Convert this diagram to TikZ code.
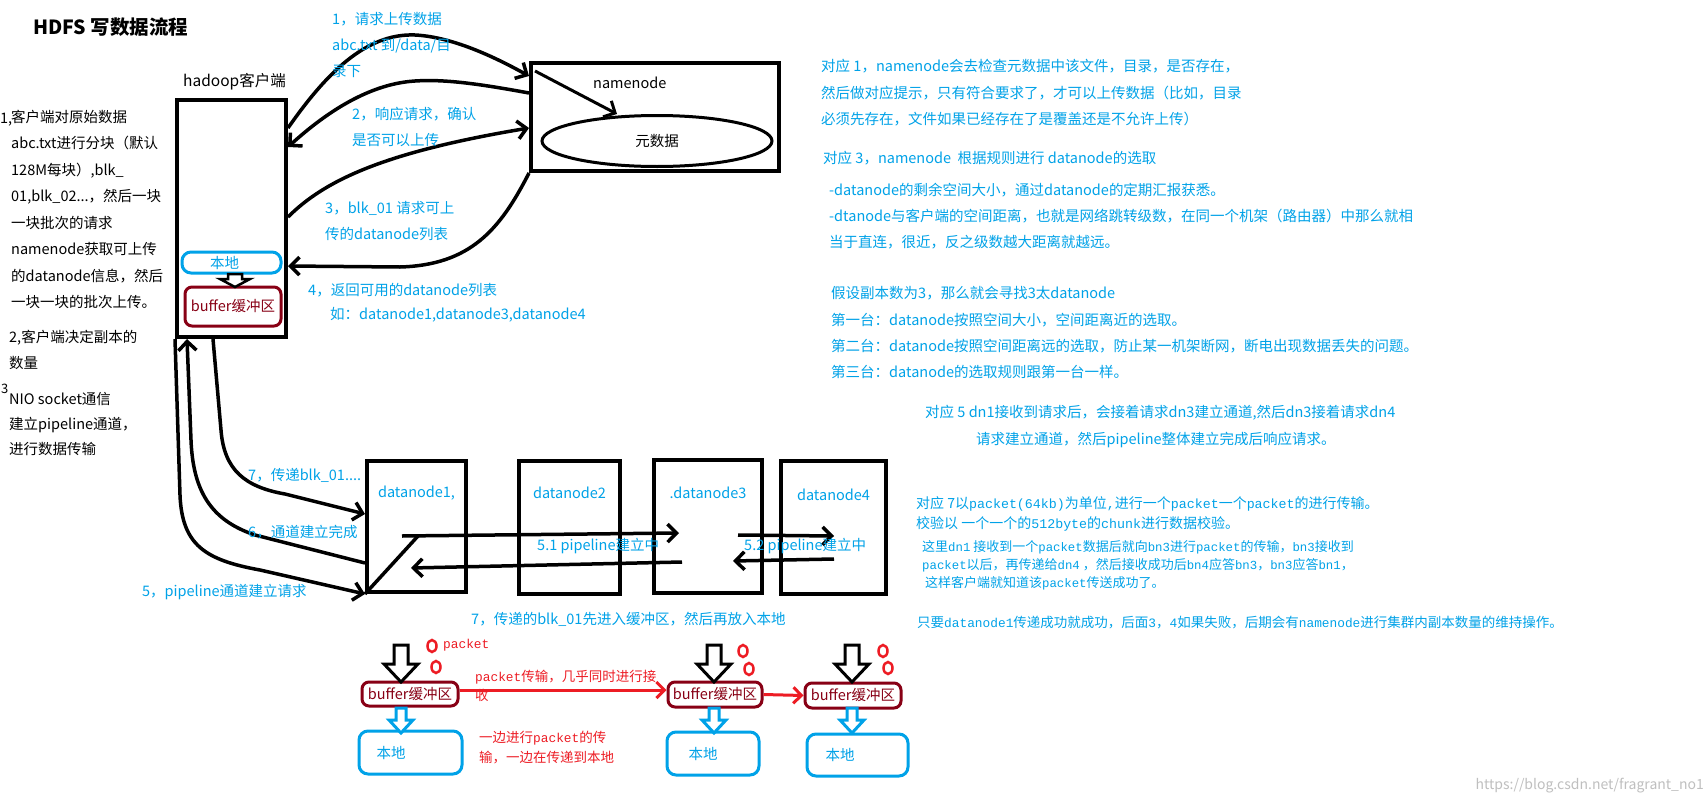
\documentclass[tikz,border=0pt]{standalone}
\usepackage{fontspec}
\setmainfont{Noto Sans CJK SC}
\newfontfamily\mono{Liberation Mono}[Scale=0.95]
\usetikzlibrary{arrows.meta,positioning,calc,shapes.geometric}

\definecolor{paintblue}{RGB}{0,162,232}
\definecolor{paintred}{RGB}{237,28,36}
\definecolor{darkred}{RGB}{136,0,21}

\begin{document}
\begin{tikzpicture}[x=1pt, y=-1pt,
  font=\fontsize{14.5}{26.5}\selectfont,
  txt/.style={anchor=west, inner sep=0pt},
  para/.style={anchor=north west, align=left, inner sep=0pt},
  note/.style={txt, text=paintblue},
  notes/.style={para, text=paintblue},
  box/.style={draw, line width=4pt, inner sep=0pt},
  localbox/.style={draw=paintblue, line width=3pt, rounded corners=9pt, inner sep=0pt, text=paintblue},
  bufbox/.style={draw=darkred, line width=3pt, rounded corners=7pt, inner sep=0pt, text=darkred},
  link/.style={line width=3.5pt, -{Straight Barb[length=9pt, width=18pt]}},
  redlink/.style={draw=paintred, line width=3pt, -{Straight Barb[length=8pt, width=16pt]}},
  hollow/.style={line width=3pt, fill=white, line join=miter}]
\fill[white] (0,0) rectangle (1706,806);
\useasboundingbox (0,0) rectangle (1706,806);

\node[txt, font=\fontsize{19.5}{22}\selectfont\bfseries] (title) at (33,27) {HDFS 写数据流程};

\node[txt] (one) at (0,120) {1,};
\node[para] (step1) at (11,109.5) {客户端对原始数据\\abc.txt进行分块（默认\\128M每块）,blk\_\\01,blk\_02...，然后一块\\一块批次的请求\\namenode获取可上传\\的datanode信息，然后\\一块一块的批次上传。};
\node[para] (step2) at (9,329.5) {2,客户端决定副本的\\数量};
\node[txt, font=\fontsize{13}{15}\selectfont] (three) at (1,389) {3};
\node[para, font=\fontsize{14.5}{25}\selectfont] (step3) at (9,392.5) {NIO socket通信\\建立pipeline通道，\\进行数据传输};

\node[box, minimum width=109pt, minimum height=237pt] (client) at (231.5,218.5) {};
\node[txt, font=\fontsize{15.5}{18}\selectfont] (clientname) at (183,82) {hadoop客户端};
\node[localbox, minimum width=99pt, minimum height=21pt] (local0) at (231.5,262.5) {本地\hspace*{14pt}};
\node[bufbox, minimum width=96pt, minimum height=39pt] (buf0) at (233,306.5) {buffer缓冲区};
\draw[hollow, line width=2.5pt] (228,274) -- (242,274) -- (242,279) -- (250,279) -- (235,287) -- (220,279) -- (228,279) -- cycle;

\node[box, minimum width=248pt, minimum height=108pt] (nn) at (655,117) {};
\node[txt] (nnname) at (593,83) {namenode};
\node[ellipse, draw, line width=3pt, minimum width=230pt, minimum height=51pt] (meta) at (657,141) {元数据};
\draw[link, line width=3pt] ([xshift=6pt,yshift=-10pt]nn.north west) -- ([xshift=-40pt]meta.north);

\draw[link] (client.east |- 0,128) .. controls (325,75) and (365,33) .. (415,35) .. controls (455,37) and (500,60) .. (nn.west |- 0,76);
\draw[link] (nn.west |- 0,93) .. controls (480,84) and (445,79) .. (415,81) .. controls (365,84) and (320,118) .. (client.east |- 0,147);
\draw[link] (client.east |- 0,217) .. controls (325,180) and (385,152) .. (nn.west |- 0,128);
\draw[link] (nn.south west) .. controls (500,230) and (470,265) .. (400,267) -- (client.east |- 0,266);

\node[notes, font=\fontsize{14.5}{26}\selectfont] (req1) at (332,12.5) {1，请求上传数据\\abc.txt 到/data/目\\录下};
\node[notes, font=\fontsize{14.5}{26}\selectfont] (resp2) at (352,107.5) {2，响应请求，确认\\是否可以上传};
\node[notes, font=\fontsize{14.5}{26}\selectfont] (req3) at (325,201.5) {3，blk\_01 请求可上\\传的datanode列表};
\node[note] (ret4) at (308,290) {4，返回可用的datanode列表};
\node[note] (ret4b) at (330,315) {如：datanode1,datanode3,datanode4};

\node[box, minimum width=99pt, minimum height=131pt] (dn1) at (416.5,526.5) {};
\node[box, minimum width=101pt, minimum height=133pt] (dn2) at (569.5,527.5) {};
\node[box, minimum width=108pt, minimum height=133pt] (dn3) at (708,526.5) {};
\node[box, minimum width=105pt, minimum height=133pt] (dn4) at (833.5,527.5) {};
\node[note, below=27pt of dn1.north] (dn1name) {datanode1,};
\node[note, below=28pt of dn2.north] (dn2name) {datanode2};
\node[note, below=29pt of dn3.north] (dn3name) {.datanode3};
\node[note, below=30pt of dn4.north] (dn4name) {datanode4};

\draw[link] (client.south west) -- (180,495) .. controls (182,545) and (205,560) .. (260,570) -- (dn1.south west);
\draw[link] (dn1.west |- 0,563) -- (255,535) .. controls (210,520) and (193,490) .. (191,440) -- (client.south -| 187,0);
\draw[link] (client.south -| 213,0) -- (221,430) .. controls (224,470) and (245,487) .. (285,494) -- (dn1.west |- 0,514);

\draw[line width=3.5pt] (dn1.south west) -- (418,536);
\draw[link] (402,536) -- ($(dn3.west |- 0,533)+(27,0)$);
\draw[link] ($(dn3.west |- 0,562)+(30,0)$) -- ($(dn1.west |- 0,568)+(46,0)$);
\draw[link] ($(dn3.east |- 0,535)-(26,0)$) -- ($(dn4.west |- 0,536)+(55,0)$);
\draw[link] ($(dn4.west |- 0,559)+(55,0)$) -- ($(dn3.east |- 0,561)-(31,0)$);

\node[note] (pipe1) at (537,546) {5.1 pipeline建立中};
\node[note] (pipe2) at (744,546) {5.2 pipeline建立中};
\node[note] (send7) at (248,475) {7，传递blk\_01....};
\node[note] (done6) at (248,532) {6，通道建立完成};
\node[note] (ask5) at (142,592) {5，pipeline通道建立请求};

\node[notes] (note1) at (821,59.5) {对应 1，namenode会去检查元数据中该文件，目录，是否存在，\\然后做对应提示，只有符合要求了，才可以上传数据（比如，目录\\必须先存在，文件如果已经存在了是覆盖还是不允许上传）};
\node[note] (note3) at (823,158) {对应 3，namenode\ \ 根据规则进行 datanode的选取};
\node[notes, font=\fontsize{14.5}{26}\selectfont] (note3a) at (829,182.5) {-datanode的剩余空间大小，通过datanode的定期汇报获悉。\\-dtanode与客户端的空间距离，也就是网络跳转级数，在同一个机架（路由器）中那么就相\\当于直连，很近，反之级数越大距离就越远。};
\node[notes, font=\fontsize{14.5}{26.3}\selectfont] (note3b) at (831,286.5) {假设副本数为3，那么就会寻找3太datanode\\第一台：datanode按照空间大小，空间距离近的选取。\\第二台：datanode按照空间距离远的选取，防止某一机架断网，断电出现数据丢失的问题。\\第三台：datanode的选取规则跟第一台一样。};
\node[note] (note5a) at (925,413) {对应 5 dn1接收到请求后，会接着请求dn3建立通道,然后dn3接着请求dn4};
\node[note] (note5b) at (976,440) {请求建立通道，然后pipeline整体建立完成后响应请求。};
\node[notes, font=\fontsize{14}{20}\selectfont] (note7) at (916,496) {对应 7以{\mono packet(64kb)}为单位{\mono ,}进行一个{\mono packet}一个{\mono packet}的进行传输。\\校验以 一个一个的{\mono 512byte}的{\mono chunk}进行数据校验。};
\node[notes, font=\fontsize{13}{18}\selectfont] (note7a) at (922,540.5) {这里{\mono dn1} 接收到一个{\mono packet}数据后就向{\mono bn3}进行{\mono packet}的传输，{\mono bn3}接收到\\{\mono packet}以后，再传递给{\mono dn4} ，然后接收成功后{\mono bn4}应答{\mono bn3}，{\mono bn3}应答{\mono bn1}，\\\ 这样客户端就知道该{\mono packet}传送成功了。};
\node[note, font=\fontsize{13.5}{16}\selectfont] (note7b) at (917,623) {只要{\mono datanode1}传递成功就成功，后面{\mono 3}，{\mono 4}如果失败，后期会有{\mono namenode}进行集群内副本数量的维持操作。};

\node[note] (stage7) at (471,619) {7，传递的blk\_01先进入缓冲区，然后再放入本地};

\node[bufbox, minimum width=96pt, minimum height=24pt] (buf1) at (410,694) {buffer缓冲区};
\node[bufbox, minimum width=94pt, minimum height=25pt] (buf2) at (715,694.5) {buffer缓冲区};
\node[bufbox, minimum width=96pt, minimum height=25pt] (buf3) at (853,695.5) {buffer缓冲区};
\node[localbox, minimum width=103pt, minimum height=43pt] (local1) at (410.5,752.5) {};
\node[localbox, minimum width=92pt, minimum height=43pt] (local2) at (713,753.5) {};
\node[localbox, minimum width=101pt, minimum height=42pt] (local3) at (857.5,755) {};
\node[note, right=19pt of local1.west] (local1name) {本地};
\node[note, right=23pt of local2.west] (local2name) {本地};
\node[note, right=20pt of local3.west] (local3name) {本地};

\foreach \x in {401,714,852} {
  \draw[hollow] (\x-7,645) -- (\x+7,645) -- (\x+7,664) -- (\x+17,664) -- (\x,682) -- (\x-17,664) -- (\x-7,664) -- cycle;
  \draw[hollow, draw=paintblue] (\x-5,708) -- (\x+5,708) -- (\x+5,720) -- (\x+12,720) -- (\x,733) -- (\x-12,720) -- (\x-5,720) -- cycle;
}
\foreach \x/\y in {432/646, 436/667, 743/651, 749/669, 883/651, 888/668}
  \draw[paintred, line width=2.5pt] (\x,\y) ellipse [x radius=4.5pt, y radius=6pt];

\draw[redlink] (buf1.east |- 0,690) -- (buf2.west |- 0,690);
\draw[redlink] (buf2.east) -- (buf3.west);

\node[txt, text=paintred, font=\fontsize{13.5}{15}\selectfont\mono] (packetname) at (443,645) {packet};
\node[para, text=paintred, font=\fontsize{13.5}{19}\selectfont] (redtext1) at (475,670) {{\mono packet}传输，几乎同时进行接\\收};
\node[para, text=paintred, font=\fontsize{13.5}{20}\selectfont] (redtext2) at (479,731) {一边进行{\mono packet}的传\\输，一边在传递到本地};

\node[txt, anchor=east, text=black!25, font=\fontsize{14}{16}\selectfont] (watermark) at (1704,786) {https://blog.csdn.net/fragrant\_no1};
\end{tikzpicture}
\end{document}
